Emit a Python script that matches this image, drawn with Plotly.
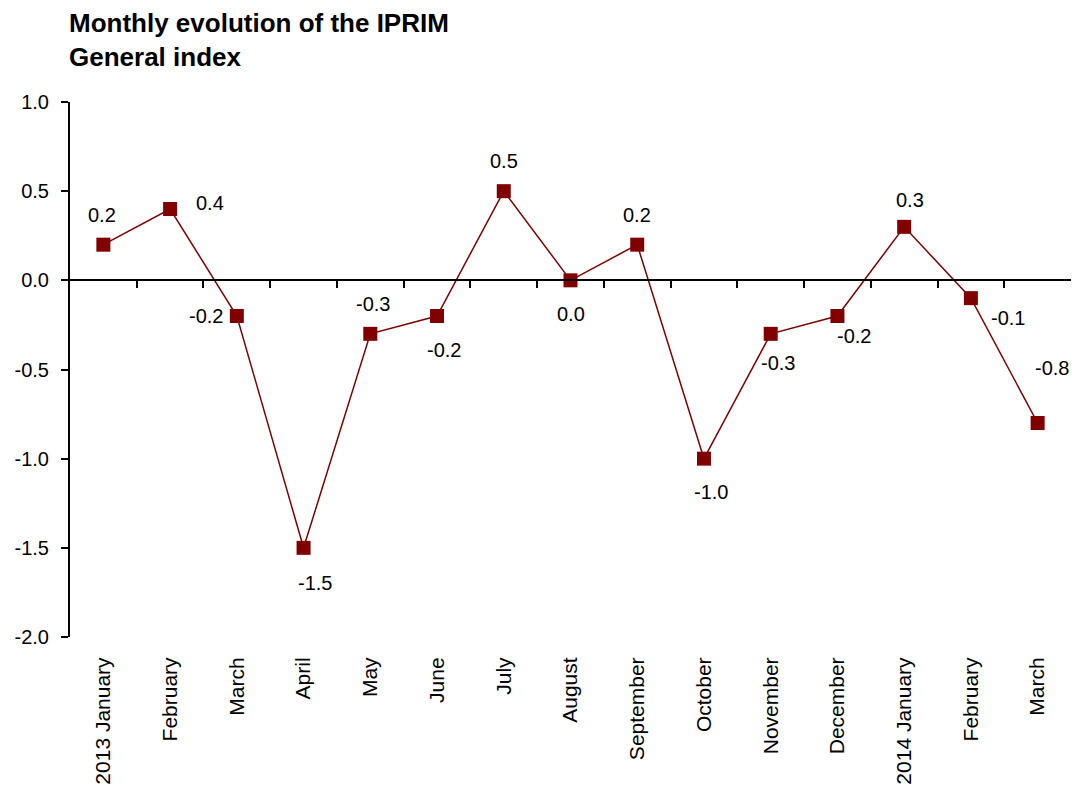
import plotly.graph_objects as go

months = ["2013 January", "February", "March", "April", "May", "June", "July",
          "August", "September", "October", "November", "December",
          "2014 January", "February", "March"]
values = [0.2, 0.4, -0.2, -1.5, -0.3, -0.2, 0.5, 0.0, 0.2, -1.0, -0.3, -0.2, 0.3, -0.1, -0.8]
y_ticks = [-2.0, -1.5, -1.0, -0.5, 0.0, 0.5, 1.0]

# label offsets in pixels (dx, dy up)
label_shift = [(-1, 30), (40, 6), (-31, 0), (11, -35), (3, 30), (7, -34), (0, 30),
               (0, -34), (0, 30), (7, -33), (7, -29), (17, -20), (6, 27), (37, -20), (14, 55)]

RED = "#800000"
FONT = "Liberation Sans, Arial, sans-serif"

x_idx = list(range(len(months)))

fig = go.Figure()

fig.add_trace(go.Scatter(
    x=x_idx, y=values,
    mode="lines+markers",
    line=dict(color=RED, width=1.5),
    marker=dict(symbol="square", size=14, color=RED),
    showlegend=False,
    cliponaxis=False
))

# invisible trace to hold the zero-line axis
fig.add_trace(go.Scatter(
    x=x_idx, y=values, xaxis="x2",
    mode="markers", marker=dict(opacity=0),
    showlegend=False, hoverinfo="skip"
))

annotations = []
for i, v in enumerate(values):
    dx, dy = label_shift[i]
    annotations.append(dict(
        x=i, y=v, text=f"{v:.1f}", showarrow=False,
        xshift=dx, yshift=dy,
        font=dict(size=20, color="black", family=FONT)
    ))

# title as an annotation, left aligned above the plot
annotations.append(dict(
    text="<b>Monthly evolution of the IPRIM<br>General index</b>",
    xref="paper", yref="paper", x=-0.003, y=1.18,
    xanchor="left", yanchor="top", align="left", showarrow=False,
    font=dict(size=26, family=FONT, color="black")
))

# page has an 8px body margin; keep the figure inside the window (no scrollbars)
fig.update_layout(
    width=1063, height=778,
    paper_bgcolor="white", plot_bgcolor="white",
    margin=dict(l=62, r=0, t=94, b=149),
    font=dict(family=FONT, size=20, color="black"),
    xaxis=dict(
        range=[-0.5, 14.5],
        tickmode="array", tickvals=x_idx, ticktext=months,
        tickangle=-90,
        showline=False, showgrid=False, zeroline=False,
        ticks="outside", ticklen=11, tickcolor="rgba(0,0,0,0)",
        tickfont=dict(size=21)
    ),
    xaxis2=dict(
        overlaying="x", anchor="free", position=2 / 3,
        range=[-0.5, 14.5],
        tickmode="array", tickvals=[i + 0.5 for i in x_idx[:-1]],
        showticklabels=False,
        ticks="outside", ticklen=7, tickwidth=1.5, tickcolor="black",
        showline=True, linewidth=2, linecolor="black",
        showgrid=False, zeroline=False
    ),
    yaxis=dict(
        range=[-2, 1],
        tickmode="array", tickvals=y_ticks, ticktext=[f"{t:.1f}" for t in y_ticks],
        ticks="outside", ticklen=7, tickwidth=1.5, tickcolor="black",
        ticklabelstandoff=8,
        showline=True, linewidth=2, linecolor="black",
        showgrid=False, zeroline=False,
        tickfont=dict(size=20)
    ),
    annotations=annotations
)

fig.write_html("out.html")
